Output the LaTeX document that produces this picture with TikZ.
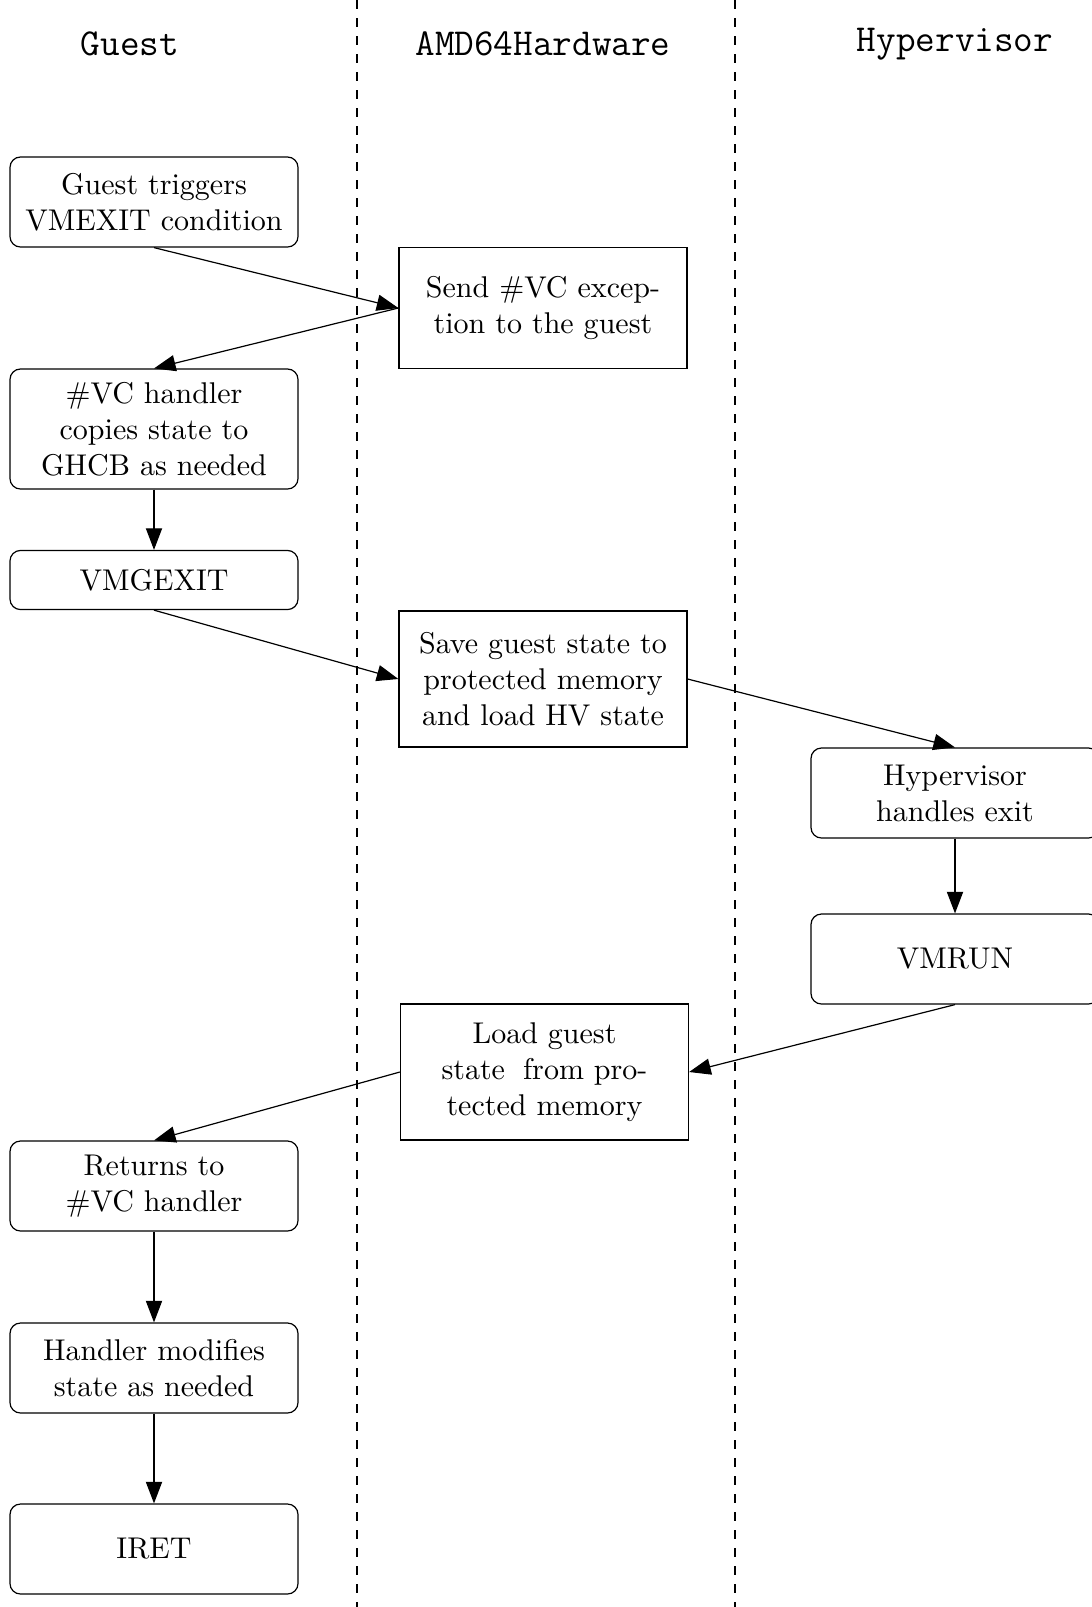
\documentclass[tikz,border=0pt]{standalone}
\usetikzlibrary{arrows.meta}
\begin{document}
\begin{tikzpicture}[x=0.3333pt,y=-0.3333pt,
  roundbox/.style={draw, rounded corners=3.5pt, text width=88pt, inner xsep=4pt,
    inner ysep=0pt, align=center, minimum height=30pt},
  sharpbox/.style={draw, text width=88pt, inner xsep=4pt, inner ysep=0pt,
    align=center, minimum height=40.3pt},
  head/.style={font=\fontsize{12.7}{15}\selectfont\ttfamily},
  lane/.style={dashed},
  flow/.style={-{Triangle[length=7.2pt,width=5.4pt]}}]
\useasboundingbox (0,0) rectangle (1092,1607);
\clip (0,0) rectangle (1092,1607);

% swimlane separators
\coordinate (l1top) at (357,0);
\coordinate (l1bot) at (357,1607);
\coordinate (l2top) at (735,0);
\coordinate (l2bot) at (735,1607);
\draw[lane] (l1top) -- (l1bot);
\draw[lane] (l2top) -- (l2bot);

% lane headings
\node[head] (hguest) at (130,44) {Guest};
\node[head] (hhw) at (543,44) {AMD64Hardware};
\node[head] (hhv) at (955,44) {Hypervisor};

% guest column
\node[roundbox] (trig) at (154,202) {Guest triggers\\VMEXIT condition};
\node[roundbox, minimum height=40pt] (vch) at (154,429) {\#VC handler\\copies state to\\GHCB as needed};
\node[roundbox, minimum height=19.7pt] (vmg) at (154,580) {VMGEXIT};
\node[roundbox] (ret) at (154,1186) {Returns to\\\#VC handler};
\node[roundbox] (mod) at (154,1368) {Handler modifies\\state as needed};
\node[roundbox] (iret) at (154,1549) {IRET};

% hardware column
\node[sharpbox] (send) at (543,308) {Send \#VC excep-\\tion to the guest};
\node[sharpbox, minimum height=45.3pt] (save) at (543,679) {Save guest state to\\protected memory\\and load HV state};
\node[sharpbox, minimum height=45.3pt] (load) at (544.5,1072) {Load guest\\state\hspace{0.6em}from pro-\\tected memory};

% hypervisor column
\node[roundbox] (hand) at (955,793) {Hypervisor\\handles exit};
\node[roundbox] (run) at (955,959) {VMRUN};

% flow
\draw[flow] (trig.south) -- (send.west);
\draw[flow] (send.west) -- (vch.north);
\draw[flow] (vch) -- (vmg);
\draw[flow] (vmg.south) -- (save.west);
\draw[flow] (save.east) -- (hand.north);
\draw[flow] (hand) -- (run);
\draw[flow] (run.south) -- (load.east);
\draw[flow] (load.west) -- (ret.north);
\draw[flow] (ret) -- (mod);
\draw[flow] (mod) -- (iret);
\end{tikzpicture}
\end{document}
